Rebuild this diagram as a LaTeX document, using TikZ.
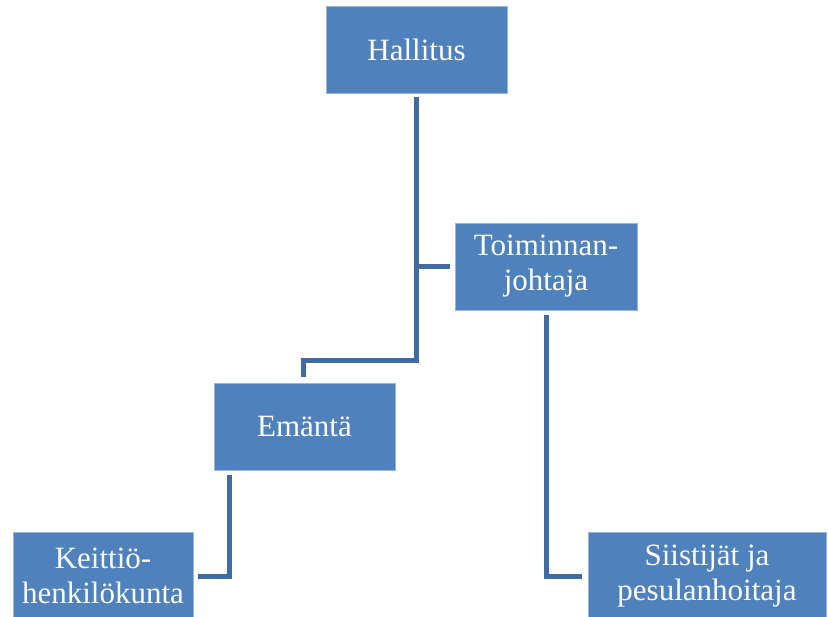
\documentclass[tikz,border=0pt]{standalone}
\usepackage{fontspec}
\setmainfont{Liberation Serif}
\usepackage{xcolor}
\usetikzlibrary{positioning,calc}
\definecolor{boxblue}{RGB}{79,129,189}
\definecolor{linkblue}{RGB}{66,107,162}
\definecolor{edgeblue}{RGB}{150,182,222}

\begin{document}
\begin{tikzpicture}[x=1pt,y=-1pt,
  unit/.style={draw=edgeblue,line width=0.8pt,fill=boxblue,text=white,align=center,inner sep=0pt,
    minimum width=181pt,minimum height=87pt,font=\fontsize{31}{35}\selectfont},
  link/.style={draw=linkblue,line width=5pt}]
\clip (0,0) rectangle (828,617);
\fill[white] (0,0) rectangle (828,617);
\node[unit] (hal) at (416.5,49.5) {Hallitus};
\node[unit,minimum width=182pt] (toi) at (546,266.5) {Toiminnan-\\johtaja};
\node[unit] (ema) at (304.5,426.5) {Emäntä};
\node[unit,minimum width=180pt] (kei) at (103,576) {Keittiö-\\henkilökunta};
\node[unit,minimum width=238pt] (sii) at (707,576) {Siistijät ja\\pesulanhoitaja};
\coordinate (jn) at (hal.south |- toi.west);
\draw[link] ([shift={(0,4)}]hal.south) -- ++(0,263) -| ([shift={(-1.5,-6)}]ema.north);
\draw[link] (jn) -- ([shift={(-5,0)}]toi.west);
\draw[link] ([shift={(0,5)}]toi.south) |- ([shift={(-6,0)}]sii.west);
\draw[link] ([shift={(16,5)}]ema.south west) |- ([shift={(5,0)}]kei.east);
\end{tikzpicture}
\end{document}
